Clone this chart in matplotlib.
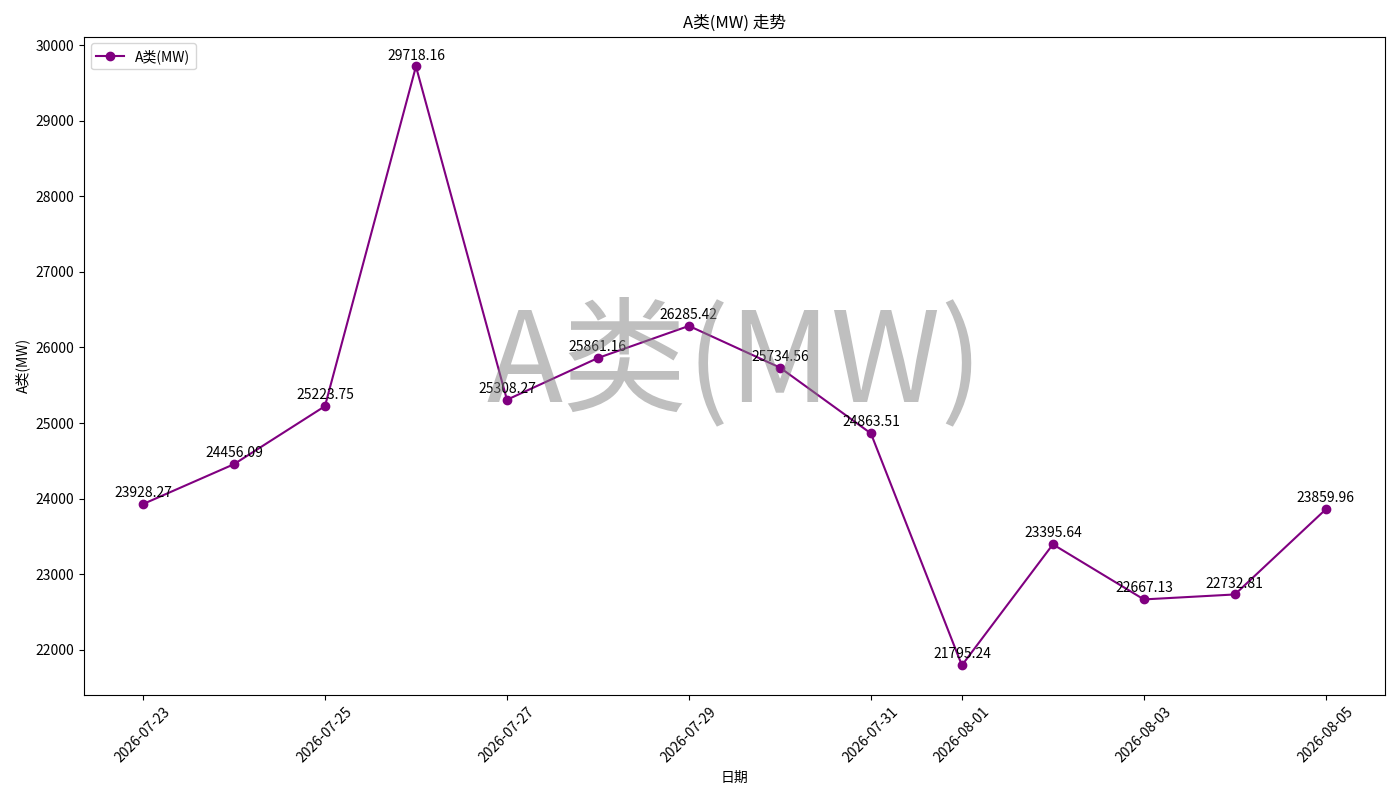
import matplotlib
matplotlib.use("Agg")
import matplotlib.pyplot as plt
import matplotlib.dates as mdates
import pandas as pd

plt.rcParams['font.family'] = ['Noto Sans CJK SC', 'DejaVu Sans']
plt.rcParams['axes.unicode_minus'] = False

dates = pd.date_range("2026-07-23", "2026-08-05", freq="D")
values = [23928.27, 24456.09, 25223.75, 29718.16, 25308.27, 25861.16, 26285.42,
          25734.56, 24863.51, 21795.24, 23395.64, 22667.13, 22732.81, 23859.96]
series_name = "A类(MW)"

fig, ax = plt.subplots(figsize=(14, 8), dpi=100)
ax.plot(dates, values, marker='o', color='purple', label=series_name)
for d, v in zip(dates, values):
    ax.annotate(f"{v:.2f}", (d, v), textcoords="offset points", xytext=(0, 5),
                ha='center', fontsize=10)
ax.set_title(f"{series_name} 走势")
ax.set_xlabel("日期")
ax.set_ylabel(series_name)
ax.legend(loc='upper left')
ax.xaxis.set_major_locator(mdates.AutoDateLocator())
ax.xaxis.set_major_formatter(mdates.DateFormatter('%Y-%m-%d'))
plt.setp(ax.get_xticklabels(), rotation=45)
ax.text(0.5, 0.5, series_name, transform=ax.transAxes, fontsize=90,
        fontweight='medium', color='gray', alpha=0.5, ha='center', va='center', zorder=10)
fig.tight_layout()
fig.savefig("out.png")
